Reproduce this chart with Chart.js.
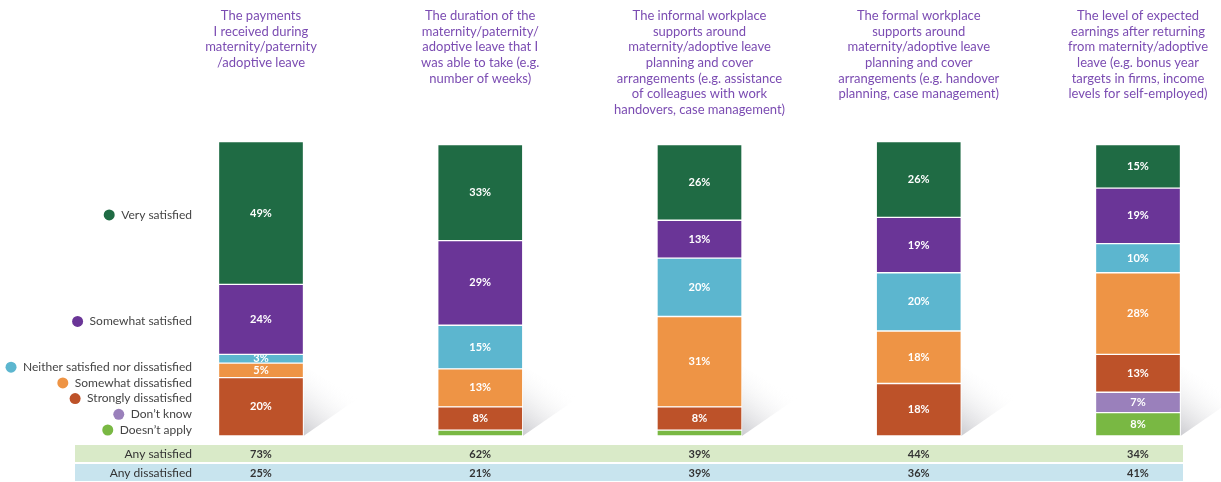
<!DOCTYPE html>
<html>
<head>
<meta charset="utf-8">
<script src="https://cdn.jsdelivr.net/npm/chart.js@4/dist/chart.umd.min.js"></script>
<style>
  body { margin: 0; background: #fff; }
  #wrap { position: relative; width: 1221px; height: 482px; }
</style>
</head>
<body>
<div id="wrap"><canvas id="myChart" width="1221" height="482"></canvas></div>
<script>
// categories (multi-line titles above each bar)
var categories = [
  ["The payments", "I received during", "maternity/paternity", "/adoptive leave"],
  ["The duration of the", "maternity/paternity/", "adoptive leave that I", "was able to take (e.g.", "number of weeks)"],
  ["The informal workplace", "supports around", "maternity/adoptive leave", "planning and cover", "arrangements (e.g. assistance", "of colleagues with work", "handovers, case management)"],
  ["The formal workplace", "supports around", "maternity/adoptive leave", "planning and cover", "arrangements (e.g. handover", "planning, case management)"],
  ["The level of expected", "earnings after returning", "from maternity/adoptive", "leave (e.g. bonus year", "targets in firms, income", "levels for self-employed)"]
];

// series, bottom of stack first
var doesntApply      = [0, 2, 2, 0, 8];
var dontKnow         = [0, 0, 0, 0, 7];
var stronglyDis      = [20, 8, 8, 18, 13];
var somewhatDis      = [5, 13, 31, 18, 28];
var neither          = [3, 15, 20, 20, 10];
var somewhatSat      = [24, 29, 13, 19, 19];
var verySat          = [49, 33, 26, 26, 15];

// summary rows
var anySatisfied     = ["73%", "62%", "39%", "44%", "34%"];
var anyDissatisfied  = ["25%", "21%", "39%", "36%", "41%"];

var seriesNames = ["Doesn\u2019t apply", "Don\u2019t know", "Strongly dissatisfied", "Somewhat dissatisfied",
  "Neither satisfied nor dissatisfied", "Somewhat satisfied", "Very satisfied"];
var seriesColors = ["#79b843", "#9a80bb", "#bd5229", "#ee9445", "#5cb6cf", "#6a3597", "#1f6b44"];
var seriesData = [doesntApply, dontKnow, stronglyDis, somewhatDis, neither, somewhatSat, verySat];

var FONT = "Lato, 'Noto Sans', sans-serif";

var datasets = seriesData.map(function(d, i) {
  return {
    label: seriesNames[i],
    data: d,
    backgroundColor: seriesColors[i],
    borderColor: "#ffffff",
    borderWidth: 1,
    borderSkipped: false,
    barThickness: 85,
    clip: false
  };
});

// custom drawing: shadows, titles, legend, labels, summary table
var decorPlugin = {
  id: "decor",
  beforeDatasetsDraw: function(chart) {
    var ctx = chart.ctx;
    var meta = chart.getDatasetMeta(0);
    var bottom = chart.scales.y.getPixelForValue(0);
    ctx.save();
    meta.data.forEach(function(bar) {
      var right = bar.x + bar.width / 2;
      var g = ctx.createLinearGradient(right, bottom, right + 40, bottom - 50);
      g.addColorStop(0, "rgba(160,160,168,0.55)");
      g.addColorStop(1, "rgba(255,255,255,0)");
      ctx.fillStyle = g;
      ctx.beginPath();
      ctx.moveTo(right, bottom);
      ctx.lineTo(right + 55, bottom - 38);
      ctx.lineTo(right, bottom - 70);
      ctx.closePath();
      ctx.fill();
    });
    ctx.restore();
  },
  afterDatasetsDraw: function(chart) {
    var ctx = chart.ctx;
    var xs = chart.scales.x;
    var area = chart.chartArea;
    ctx.save();

    // segment labels
    ctx.fillStyle = "#ffffff";
    ctx.font = "bold 11px " + FONT;
    ctx.textAlign = "center";
    ctx.textBaseline = "middle";
    chart.data.datasets.forEach(function(ds, di) {
      chart.getDatasetMeta(di).data.forEach(function(bar, i) {
        if (ds.data[i] >= 3) {
          ctx.fillText(ds.data[i] + "%", bar.x, (bar.y + bar.base) / 2);
        }
      });
    });

    // titles
    ctx.fillStyle = "#7b4cb2";
    ctx.font = "13px " + FONT;
    categories.forEach(function(lines, i) {
      var cx = xs.getPixelForValue(i);
      lines.forEach(function(t, k) {
        ctx.fillText(t, cx, 16 + k * 15.6);
      });
    });

    // legend
    ctx.font = "12px " + FONT;
    ctx.textAlign = "right";
    var first = [];
    chart.data.datasets.forEach(function(ds, di) {
      first.push(chart.getDatasetMeta(di).data[0]);
    });
    var legendY = [];
    for (var k = 0; k < 5; k++) {
      legendY.push(area.bottom - 6 - k * 15.7);
    }
    legendY.push((first[5].y + first[5].base) / 2 + 2);
    legendY.push((first[6].y + first[6].base) / 2 + 2);
    var textRight = 192;
    seriesNames.forEach(function(name, i) {
      var y = legendY[i];
      ctx.fillStyle = "#444";
      ctx.fillText(name, textRight, y);
      var w = ctx.measureText(name).width;
      ctx.fillStyle = seriesColors[i];
      ctx.beginPath();
      ctx.arc(textRight - w - 12, y, 5.5, 0, Math.PI * 2);
      ctx.fill();
    });

    // summary table
    var rows = [
      { label: "Any satisfied", vals: anySatisfied, color: "#d9eac8", top: 445 },
      { label: "Any dissatisfied", vals: anyDissatisfied, color: "#c8e4ee", top: 464 }
    ];
    rows.forEach(function(r) {
      ctx.fillStyle = r.color;
      ctx.fillRect(75, r.top, 1108, 17);
      ctx.fillStyle = "#333";
      ctx.textAlign = "right";
      ctx.font = "12px " + FONT;
      ctx.fillText(r.label, textRight, r.top + 9);
      ctx.textAlign = "center";
      ctx.font = "bold 11px " + FONT;
      r.vals.forEach(function(v, i) {
        ctx.fillText(v, xs.getPixelForValue(i), r.top + 9);
      });
    });
    ctx.restore();
  }
};

var ctx = document.getElementById("myChart").getContext("2d");
var myChart = new Chart(ctx, {
  type: "bar",
  data: {
    labels: categories.map(function(c) { return c.join(" "); }),
    datasets: datasets
  },
  options: {
    responsive: false,
    animation: false,
    layout: { padding: { left: 261, right: 83, top: 143, bottom: 46 } },
    plugins: { legend: { display: false }, tooltip: { enabled: false } },
    scales: {
      x: { stacked: true, offset: false, display: false },
      y: { stacked: true, min: 0, max: 100.5, display: false }
    }
  },
  plugins: [decorPlugin]
});
</script>
</body>
</html>
